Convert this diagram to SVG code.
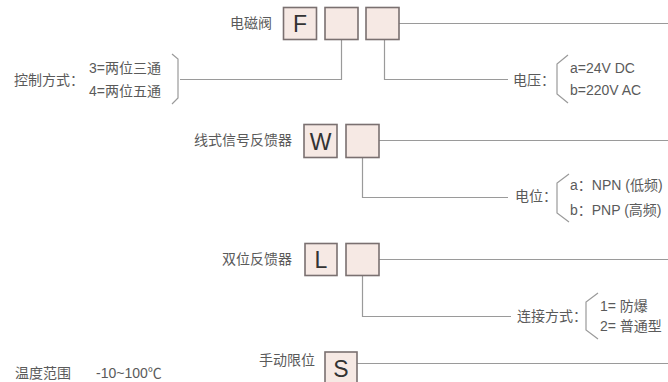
<svg xmlns="http://www.w3.org/2000/svg" width="668" height="382" viewBox="0 0 668 382">
<style>
text{font-family:"Liberation Sans","Noto Sans CJK SC",sans-serif;font-size:14px;fill:#5a5a5a;dominant-baseline:central}
.box{fill:#f6e9e4;stroke:#7a7070;stroke-width:1.6}
.let{font-size:23px;fill:#333;text-anchor:middle}
.ln{fill:none;stroke:#9a9a9a;stroke-width:1.2}
.r{text-anchor:end}
</style>
<rect width="668" height="382" fill="#fff"/>
<g id="connectors">
<path class="ln" d="M399,23.5H668"/>
<path class="ln" d="M341.5,39.5V79.5H180"/>
<path class="ln" d="M384.5,39.5V79.5H508"/>
<path class="ln" d="M379,140.5H668"/>
<path class="ln" d="M362.5,157.5V197.5H508"/>
<path class="ln" d="M379,259.5H668"/>
<path class="ln" d="M362.5,275V316.5H511"/>
<path class="ln" d="M357,363.5H668"/>
<path class="ln" d="M172,54L178,59V98L172,104"/>
<path class="ln" d="M568,55L557,64V94L568,103"/>
<path class="ln" d="M569,174L557,183V213L569,222"/>
<path class="ln" d="M598,293L586,302V330L598,339"/>
</g>
<g id="node-F">
<text x="272" y="23" class="r">电磁阀</text>
<rect class="box" x="283.5" y="7.5" width="33" height="32"/>
<text x="300" y="24" class="let">F</text>
<rect class="box" x="325" y="7.5" width="33" height="32"/>
<rect class="box" x="366" y="7.5" width="33" height="32"/>
</g>
<g id="control">
<text x="84" y="80" class="r">控制方式：</text>
<text x="89" y="68">3=两位三通</text>
<text x="89" y="91">4=两位五通</text>
</g>
<g id="voltage">
<text x="513" y="80">电压：</text>
<text x="570" y="68">a=24V DC</text>
<text x="570" y="90">b=220V AC</text>
</g>
<g id="node-W">
<text x="292" y="140" class="r">线式信号反馈器</text>
<rect class="box" x="304" y="124.5" width="33" height="33"/>
<text x="320.5" y="141.5" class="let">W</text>
<rect class="box" x="346" y="124.5" width="33" height="33"/>
</g>
<g id="potential">
<text x="515" y="196">电位：</text>
<text x="570" y="185">a：NPN (低频)</text>
<text x="570" y="210">b：PNP (高频)</text>
</g>
<g id="node-L">
<text x="292" y="259" class="r">双位反馈器</text>
<rect class="box" x="305" y="243.5" width="32" height="32"/>
<text x="321" y="260" class="let">L</text>
<rect class="box" x="346" y="243.5" width="33" height="32"/>
</g>
<g id="connection">
<text x="517" y="316">连接方式：</text>
<text x="600" y="306">1= 防爆</text>
<text x="600" y="326">2= 普通型</text>
</g>
<g id="node-S">
<text x="315" y="360" class="r">手动限位</text>
<rect class="box" x="325" y="352" width="32" height="33"/>
<text x="341" y="369" class="let">S</text>
</g>
<text x="15" y="373">温度范围<tspan x="96">-10~100℃</tspan></text>
</svg>
